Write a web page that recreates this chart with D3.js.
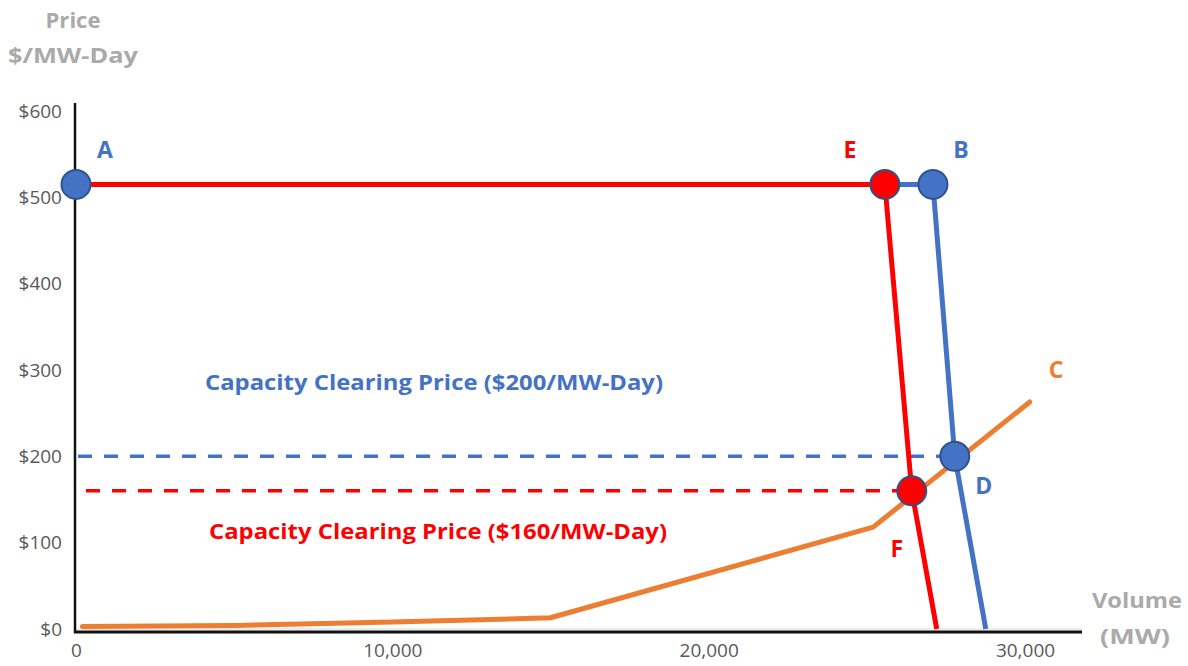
<!DOCTYPE html>
<html>
<head>
<meta charset="utf-8">
<script src="https://cdn.jsdelivr.net/npm/d3@7"></script>
<style>
  body { margin: 0; background: #fff; }
  svg { display: block; }
  text { font-family: "Open Sans", Lato, sans-serif; }
</style>
</head>
<body>
<svg id="chart"></svg>
<script>
const WIDTH = 1188
const HEIGHT = 666

// MW, $/MW-Day
const xTicks = [0, 10000, 20000, 30000]
const yTicks = [0, 100, 200, 300, 400, 500, 600]

const oldSupply = [[0, 515], [25570, 515], [26420, 160], [27210, 0]]   // red
const newSupply = [[25570, 515], [27090, 515], [27780, 200], [28760, 0]] // blue
const demand = [[200, 3], [5000, 4], [10000, 8], [15000, 13], [25200, 118], [30150, 263]] // orange

const points = [
    { name: 'A', x: 0, y: 515, fill: '#4472C4', label: [29, -26] },
    { name: 'E', x: 25570, y: 515, fill: '#FF0000', label: [-35, -26] },
    { name: 'B', x: 27090, y: 515, fill: '#4472C4', label: [28, -26] },
    { name: 'D', x: 27780, y: 200, fill: '#4472C4', label: [29, 38] },
    { name: 'F', x: 26420, y: 160, fill: '#FF0000', label: [-15, 66] }
]

const clearing = [
    { price: 200, toX: 27780, color: '#4472C4', text: 'Capacity Clearing Price ($200/MW-Day)', textY: 390, textX: 205 },
    { price: 160, toX: 26420, color: '#FF0000', text: 'Capacity Clearing Price ($160/MW-Day)', textY: 539, textX: 209 }
]

// axis titles: text, centre x, baseline y, width
const titles = [
    ['Price', 73, 28, 55],
    ['$/MW-Day', 73, 63, 130],
    ['Volume', 1137, 608, 90],
    ['(MW)', 1135, 644, 70]
]

const x = d3.scaleLinear().domain([0, 30000]).range([76, 1025])
const y = d3.scaleLinear().domain([0, 600]).range([629, 111])

const svg = d3.select('#chart').attr('width', WIDTH).attr('height', HEIGHT)

// y tick labels
svg.append('g')
    .attr('transform', 'translate(75,0)')
    .call(d3.axisLeft(y).tickValues(yTicks).tickFormat(d => '$' + d).tickSize(0).tickPadding(13))
    .call(g => g.select('.domain').remove())
    .selectAll('text')
    .attr('fill', '#595959')
    .style('font-size', '19px')
    .style('font-family', '"Open Sans", sans-serif')

// x tick labels
svg.append('g')
    .attr('transform', 'translate(0,632)')
    .call(d3.axisBottom(x).tickValues(xTicks).tickFormat(d3.format(',')).tickSize(0).tickPadding(12))
    .call(g => g.select('.domain').remove())
    .selectAll('text')
    .attr('fill', '#595959')
    .style('font-size', '19px')
    .style('font-family', '"Open Sans", sans-serif')

// axis lines
svg.append('line')
    .attr('x1', 75).attr('x2', 1082).attr('y1', 629).attr('y2', 629)
    .attr('stroke', '#d9d9d9').attr('stroke-width', 1)
svg.append('line')
    .attr('x1', 74).attr('x2', 1082).attr('y1', 632).attr('y2', 632)
    .attr('stroke', '#111').attr('stroke-width', 3)
svg.append('line')
    .attr('x1', 75).attr('x2', 75).attr('y1', 103).attr('y2', 633)
    .attr('stroke', '#111').attr('stroke-width', 2.5)

// axis titles
svg.selectAll('text.title')
    .data(titles)
    .join('text')
    .attr('class', 'title')
    .attr('x', d => d[1] - d[3] / 2)
    .attr('y', d => d[2])
    .attr('textLength', d => d[3])
    .attr('lengthAdjust', 'spacingAndGlyphs')
    .attr('fill', '#AAAAAA')
    .attr('font-weight', 'bold')
    .style('font-size', '21px')
    .text(d => d[0])

const line = d3.line().x(d => x(d[0])).y(d => y(d[1]))

// clearing price dashed lines
clearing.forEach(c => {
    svg.append('line')
        .attr('x1', x(0) + (c.price === 200 ? 2 : 10)).attr('x2', x(c.toX))
        .attr('y1', y(c.price)).attr('y2', y(c.price))
        .attr('stroke', c.color).attr('stroke-width', 3.5)
        .attr('stroke-dasharray', '14,12')
})

// curves
svg.append('path').datum(demand).attr('d', line)
    .attr('fill', 'none').attr('stroke', '#ED7D31').attr('stroke-width', 5)
    .attr('stroke-linecap', 'round').attr('stroke-linejoin', 'round')
svg.append('path').datum(newSupply).attr('d', line)
    .attr('fill', 'none').attr('stroke', '#4472C4').attr('stroke-width', 5)
    .attr('stroke-linejoin', 'round')
svg.append('path').datum(oldSupply).attr('d', line)
    .attr('fill', 'none').attr('stroke', '#FF0000').attr('stroke-width', 5)
    .attr('stroke-linejoin', 'round')

// captions
clearing.forEach(c => {
    svg.append('text')
        .attr('x', c.textX).attr('y', c.textY)
        .attr('fill', c.color)
        .attr('font-weight', 'bold')
        .style('font-size', '21px')
        .attr('textLength', 458)
        .attr('lengthAdjust', 'spacingAndGlyphs')
        .text(c.text)
})

// points
svg.selectAll('circle.pt')
    .data(points)
    .join('circle')
    .attr('class', 'pt')
    .attr('cx', d => x(d.x))
    .attr('cy', d => y(d.y))
    .attr('r', 14.5)
    .attr('fill', d => d.fill)
    .attr('stroke', '#2F528F')
    .attr('stroke-width', 2)

svg.selectAll('text.pt')
    .data(points)
    .join('text')
    .attr('class', 'pt')
    .attr('x', d => x(d.x) + d.label[0])
    .attr('y', d => y(d.y) + d.label[1])
    .attr('text-anchor', 'middle')
    .attr('fill', d => d.fill)
    .attr('font-weight', 'bold')
    .style('font-size', '23px')
    .text(d => d.name)

// C label for demand curve
svg.append('text')
    .attr('x', 1056).attr('y', 378)
    .attr('text-anchor', 'middle')
    .attr('fill', '#ED7D31')
    .attr('font-weight', 'bold')
    .style('font-size', '23px')
    .text('C')
</script>
</body>
</html>
